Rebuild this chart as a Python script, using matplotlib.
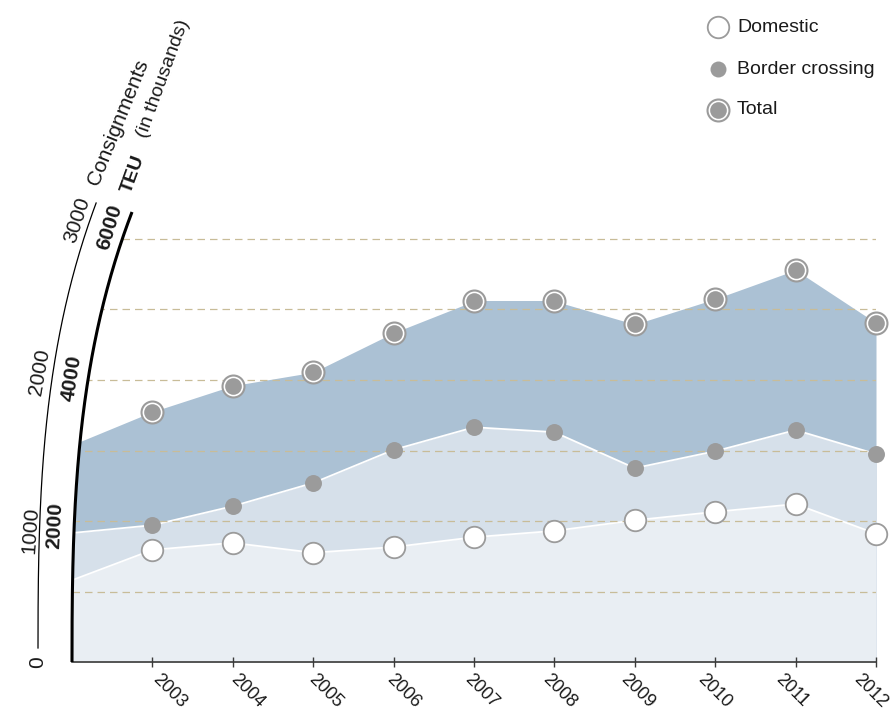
import numpy as np
import matplotlib
matplotlib.use("Agg")
import matplotlib.pyplot as plt
from matplotlib.patches import Polygon
from matplotlib.transforms import ScaledTranslation

plt.rcParams["font.family"] = ["Liberation Sans", "DejaVu Sans"]

# values, TEU scale
years = [2003, 2004, 2005, 2006, 2007, 2008, 2009, 2010, 2011, 2012]
domestic = [1590, 1690, 1550, 1630, 1770, 1860, 2010, 2130, 2240, 1820]
border = [1940, 2210, 2540, 3010, 3330, 3260, 2750, 2990, 3290, 2950]
total = [3550, 3920, 4110, 4670, 5120, 5120, 4790, 5150, 5560, 4810]

# the shaded layers start one year earlier, at the left axis
area_years = [2002] + years
domestic_area = [1160] + domestic
border_area = [1830] + border
total_area = [3080] + total

grid_levels = [1000, 2000, 3000, 4000, 5000, 6000]
teu_labels = ["2000", "4000", "6000"]
consign_labels = ["0", "1000", "2000", "3000"]
legend_labels = ["Domestic", "Border crossing", "Total"]

GRAY = "#9b9b9b"
LIGHT, MID, DARK = "#e9eef3", "#d6e0ea", "#abc1d4"
GRID = "#c8bc98"
INK = "#1a1a1a"

W, H = 895, 711
X0, X1, Y0 = 72, 876, 662      # pixel frame of the plot
PX_PER_UNIT = 0.0705
YMAX = 6500

fig = plt.figure(figsize=(W / 100, H / 100), dpi=100)
ax = fig.add_axes([X0 / W, (H - Y0) / H, (X1 - X0) / W, YMAX * PX_PER_UNIT / H])
ax.set_xlim(2002, 2012)
ax.set_ylim(0, YMAX)
ax.patch.set_alpha(0)

# overlay in pixel coordinates for the curved axes and the legend
ov = fig.add_axes([0, 0, 1, 1])
ov.set_xlim(0, W)
ov.set_ylim(H, 0)
ov.axis("off")


def bend(t):
    return 4.03e-5 * t ** 2 + 5.69e-7 * t ** 3


t = np.linspace(0, 450, 200)
thick_x, thick_y = X0 + bend(t), Y0 - t
t2 = np.linspace(0, 445, 200)
thin_x, thin_y = 38 + bend(t2), 648 - t2

clip = Polygon(list(zip(thick_x, thick_y)) + [(W, 212), (W, 700), (X0, 700)],
               closed=True, transform=ov.transData)

# shaded layers
for vals, col in [(total_area, DARK), (border_area, MID), (domestic_area, LIGHT)]:
    f = ax.fill_between(area_years, 0, vals, color=col, lw=0, zorder=1)
    f.set_clip_path(clip)
for vals in (border_area, domestic_area):
    ln, = ax.plot(area_years, vals, color="white", lw=1.3, zorder=2)
    ln.set_clip_path(clip)

g = ax.hlines(grid_levels, 2002, 2012, colors=GRID, lw=0.9,
              linestyles=[(0, (6, 4))], zorder=3)
g.set_clip_path(clip)

# markers
ax.plot(years, domestic, "o", ms=15.5, mfc="white", mec=GRAY, mew=1.3,
        ls="none", zorder=5, clip_on=False)
ax.plot(years, border, "o", ms=12.2, mfc=GRAY, mec="none",
        ls="none", zorder=5, clip_on=False)
ax.plot(years, total, "o", ms=15.8, mfc="white", mec=GRAY, mew=1.5,
        ls="none", zorder=5, clip_on=False)
ax.plot(years, total, "o", ms=12, mfc=GRAY, mec="none",
        ls="none", zorder=6, clip_on=False)

for s in ("left", "right", "top"):
    ax.spines[s].set_visible(False)
ax.spines["bottom"].set_color("#3a3a3a")
ax.spines["bottom"].set_linewidth(1.2)
ax.set_yticks([])
ax.set_xticks(years)
ax.set_xticklabels([str(y) for y in years], rotation=-45, ha="left", va="top",
                   fontsize=13, color=INK)
ax.tick_params(axis="x", direction="inout", length=7, width=1,
               color="#3a3a3a", pad=3)
# year labels drift slightly left of their ticks towards the right end
for i, lab in enumerate(ax.get_xticklabels()):
    lab.set_transform(lab.get_transform()
                      + ScaledTranslation((-3 - 2.5 * i) / 100, 0, fig.dpi_scale_trans))

# curved axes
ov.plot(thick_x, thick_y, color="black", lw=2.2, solid_capstyle="butt")
ov.plot(thin_x, thin_y, color="black", lw=0.9)

for s, (x, y, r) in zip(consign_labels, [(38, 662, 90), (31, 530, 86),
                                         (40, 372, 80), (77, 220, 72)]):
    ov.text(x, y, s, rotation=r, ha="center", va="center", rotation_mode="anchor",
            fontsize=15, color=INK)
for s, (x, y, r) in zip(teu_labels, [(55, 525, 87), (72, 378, 81), (110, 227, 73)]):
    ov.text(x, y, s, rotation=r, ha="center", va="center", rotation_mode="anchor",
            fontsize=15, fontweight="bold", color=INK)
ov.text(133, 174, "TEU", rotation=70, ha="center", va="center",
        rotation_mode="anchor", fontsize=14, fontweight="bold", color=INK)
ov.text(118, 122, "Consignments", rotation=68, ha="center", va="center",
        rotation_mode="anchor", fontsize=15, color=INK)
ov.text(163, 79, "(in thousands)", rotation=70, ha="center", va="center",
        rotation_mode="anchor", fontsize=14, color=INK)

# legend
ov.plot(718, 27, "o", ms=15.5, mfc="white", mec=GRAY, mew=1.3)
ov.plot(718, 69, "o", ms=11.5, mfc=GRAY, mec="none")
ov.plot(718, 110, "o", ms=15.8, mfc="white", mec=GRAY, mew=1.5)
ov.plot(718, 110, "o", ms=12, mfc=GRAY, mec="none")
for s, y in zip(legend_labels, [27, 69, 110]):
    ov.text(737, y, s, ha="left", va="center", fontsize=14, color=INK)

fig.savefig("out.png", dpi=100)
